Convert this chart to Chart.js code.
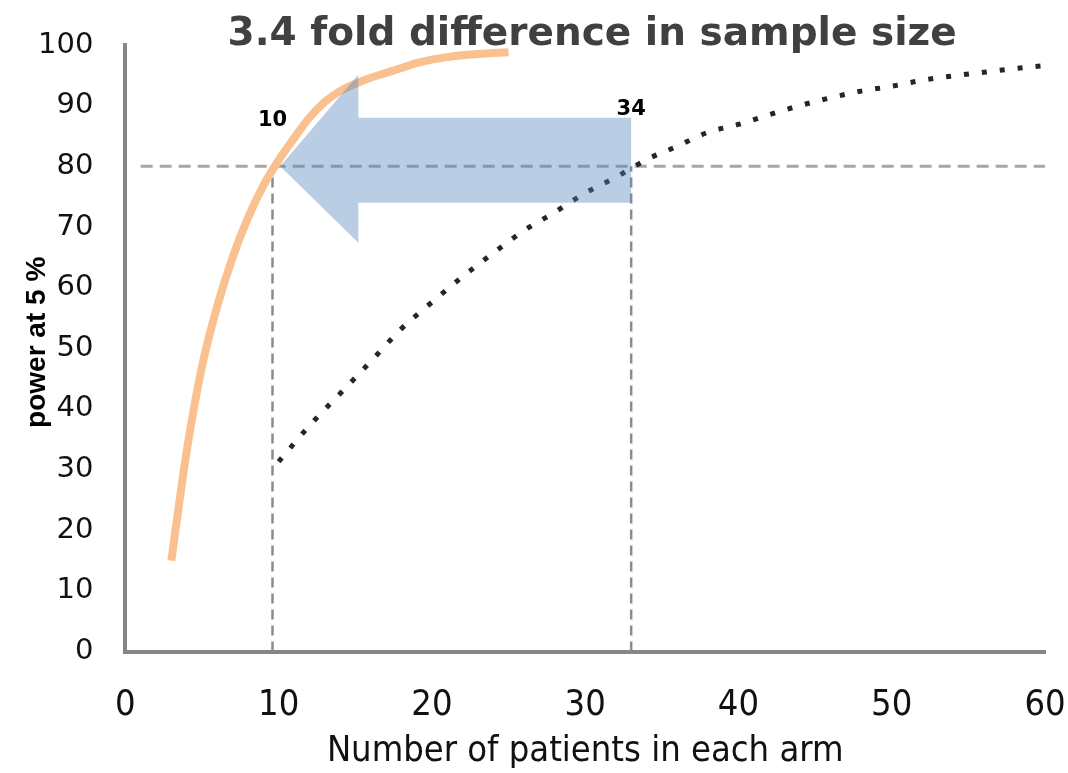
<!DOCTYPE html>
<html lang="en">
<head>
    <meta charset="UTF-8">
    <title>3.4 fold difference in sample size</title>
    <script src="https://cdn.jsdelivr.net/npm/chart.js"></script>
    <style>
        body { margin: 0; background: #fff; }
        #wrap { width: 1068px; height: 773px; }
    </style>
</head>
<body>
    <div id="wrap"><canvas id="grafico" width="1068" height="773"></canvas></div>

    <script>
        // curva naranja (efecto grande)
        const nBig = [3, 4, 5, 6, 7, 8, 9, 10, 11, 12, 13, 14, 15, 16, 17, 18, 19, 20, 22, 23, 25];
        const powerBig = [15, 33, 47, 57, 65, 71.5, 76.8, 81, 84.6, 88, 90.6, 92.4, 93.6, 94.6, 95.4, 96.2, 97, 97.6, 98.3, 98.5, 98.8];

        // curva punteada (efecto pequeño)
        const nSmall = [10, 12, 14, 16, 18, 20, 22, 24, 26, 28, 30, 32, 34, 36, 38, 40, 42, 44, 46, 48, 50, 52, 54, 56, 58, 60];
        const powerSmall = [31.3, 37.2, 42.5, 47.8, 53.2, 57.6, 61.8, 65.7, 69.4, 72.4, 75.6, 78.2, 81.1, 83.3, 85.6, 86.9, 88.5, 90, 91.3, 92.4, 93.2, 94.2, 94.9, 95.5, 96.1, 96.6];

        // lineas de referencia
        const targetPower = 80;
        const sampleSizes = [9.6, 33];
        const sampleLabels = ['10', '34'];
        const sampleLabelPower = [87.6, 89.3];

        // flecha (en unidades de datos)
        const arrowX = [10.1, 15.2, 15.2, 33, 33, 15.2, 15.2];
        const arrowY = [80, 95.1, 88, 88, 74, 74, 67.4];

        const xTicks = [0, 10, 20, 30, 40, 50, 60];
        const yTicks = [0, 10, 20, 30, 40, 50, 60, 70, 80, 90, 100];

        const title = '3.4 fold difference in sample size';
        const xTitle = 'Number of patients in each arm';
        const yTitle = 'power at 5 %';

        const narrow = "'Liberation Sans Narrow', 'DejaVu Sans Condensed', 'Liberation Sans', sans-serif";

        const refLines = [
            { data: [{x: 1, y: targetPower}, {x: 60, y: targetPower}], dash: [12, 7], width: 3, color: '#a6a6a6' }
        ];
        sampleSizes.forEach(n => {
            refLines.push({ data: [{x: n, y: 0}, {x: n, y: targetPower}], dash: [10, 6], width: 2.5, color: '#8c8c8c' });
        });

        // dibuja titulo, titulo del eje y, etiquetas y flecha
        const extras = {
            id: 'extras',
            afterDatasetsDraw(chart) {
                const ctx = chart.ctx;
                const xs = chart.scales.x, ys = chart.scales.y;
                const area = chart.chartArea;

                ctx.save();
                ctx.fillStyle = 'rgba(79, 129, 189, 0.4)';
                ctx.beginPath();
                arrowX.forEach((v, i) => {
                    const px = xs.getPixelForValue(v), py = ys.getPixelForValue(arrowY[i]);
                    if (i === 0) ctx.moveTo(px, py); else ctx.lineTo(px, py);
                });
                ctx.closePath();
                ctx.fill();

                ctx.fillStyle = '#000';
                ctx.font = 'bold 21px "DejaVu Sans"';
                ctx.textAlign = 'center';
                ctx.textBaseline = 'middle';
                sampleLabels.forEach((t, i) => {
                    ctx.fillText(t, xs.getPixelForValue(sampleSizes[i]), ys.getPixelForValue(sampleLabelPower[i]));
                });

                ctx.fillStyle = '#404040';
                ctx.font = 'bold 39px "DejaVu Sans"';
                ctx.textBaseline = 'alphabetic';
                ctx.fillText(title, (area.left + area.right) / 2 + 7, 45);

                ctx.translate(37, (area.top + area.bottom) / 2 - 6);
                ctx.rotate(-Math.PI / 2);
                ctx.fillStyle = '#000';
                ctx.font = 'bold 28px "Liberation Sans"';
                ctx.textBaseline = 'middle';
                ctx.fillText(yTitle, 0, 0);
                ctx.restore();
            }
        };

        const ctx = document.getElementById('grafico').getContext('2d');
        const chart = new Chart(ctx, {
            type: 'line',
            data: {
                datasets: [{
                    data: nBig.map((n, i) => ({x: n, y: powerBig[i]})),
                    borderColor: '#fac090',
                    borderWidth: 8,
                    cubicInterpolationMode: 'monotone',
                    pointRadius: 0,
                    fill: false
                }, {
                    data: nSmall.map((n, i) => ({x: n, y: powerSmall[i]})),
                    borderColor: '#262626',
                    borderWidth: 5,
                    borderDash: [5, 13],
                    borderCapStyle: 'butt',
                    cubicInterpolationMode: 'monotone',
                    pointRadius: 0,
                    fill: false
                }].concat(refLines.map(r => ({
                    data: r.data,
                    borderColor: r.color,
                    borderWidth: r.width,
                    borderDash: r.dash,
                    pointRadius: 0,
                    fill: false
                })))
            },
            options: {
                responsive: false,
                animation: false,
                layout: { padding: { left: 38, right: 23, top: 45, bottom: 0 } },
                plugins: {
                    legend: { display: false },
                    tooltip: { enabled: false },
                    title: { display: false }
                },
                scales: {
                    x: {
                        type: 'linear',
                        min: 0,
                        max: 60,
                        grid: { display: false, drawTicks: true, tickLength: 32 },
                        border: { display: true, color: '#868686', width: 4 },
                        afterBuildTicks: s => { s.ticks = xTicks.map(v => ({value: v})); },
                        ticks: {
                            padding: 0,
                            color: '#111',
                            font: { family: narrow, size: 36 }
                        },
                        title: {
                            display: true,
                            text: xTitle,
                            color: '#111',
                            padding: { top: 3, bottom: 0 },
                            font: { family: narrow, size: 36 }
                        }
                    },
                    y: {
                        min: 0,
                        max: 100,
                        grid: { display: false, drawTicks: true, tickLength: 32 },
                        border: { display: true, color: '#868686', width: 4 },
                        afterBuildTicks: s => { s.ticks = yTicks.map(v => ({value: v})); },
                        ticks: {
                            padding: 0,
                            color: '#111',
                            font: { family: 'DejaVu Sans', size: 29 }
                        }
                    }
                }
            },
            plugins: [extras]
        });
    </script>
</body>
</html>
